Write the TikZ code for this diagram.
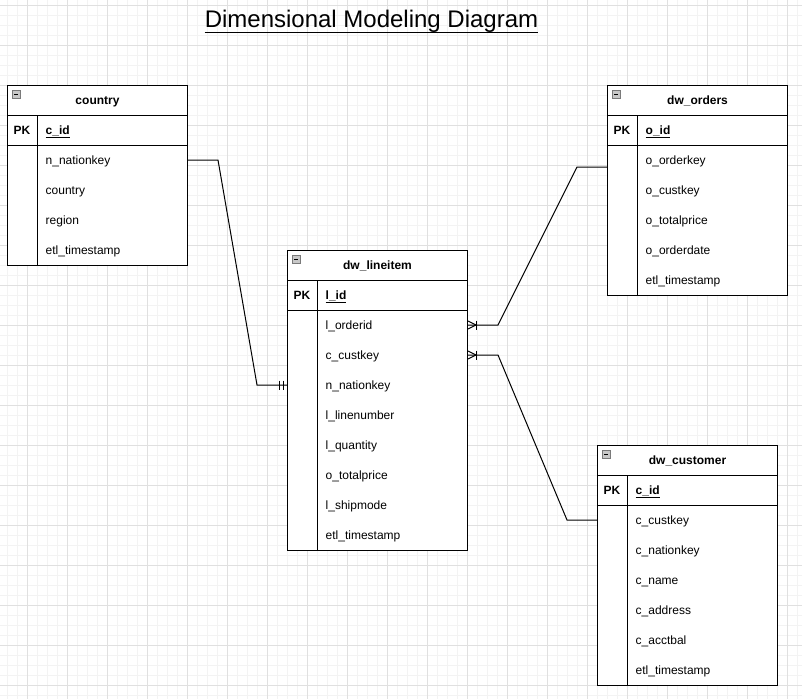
\documentclass[tikz,border=0pt]{standalone}
\usepackage{fontspec}
\setmainfont{Liberation Sans}
\usetikzlibrary{calc}
\definecolor{gridminor}{HTML}{F3F3F3}
\definecolor{gridmajor}{HTML}{E0E0E0}
\definecolor{iconfill}{HTML}{C8C8C8}
\definecolor{iconline}{HTML}{7A7A7A}
\tikzset{
  tbl/.style={draw=black, line width=1pt, fill=white, minimum width=180pt, inner sep=0pt, anchor=north west},
  sepline/.style={draw=black, line width=1pt},
  hdr/.style={font=\fontsize{12}{14}\selectfont\bfseries, inner sep=0pt, anchor=base},
  pkcell/.style={font=\fontsize{12}{14}\selectfont\bfseries, inner sep=0pt, anchor=base},
  pkname/.style={font=\fontsize{12}{14}\selectfont\bfseries, inner sep=0pt, anchor=base west},
  field/.style={font=\fontsize{12}{14}\selectfont, inner sep=0pt, anchor=base west},
  conn/.style={draw=black, line width=1pt},
  tickmark/.style={draw=black, line width=1pt},
  icon/.style={draw=iconline, fill=iconfill, line width=0.8pt},
  titletext/.style={font=\fontsize{24}{28}\selectfont, inner sep=0pt, anchor=base},
}
\newcommand{\ertable}[7]{%
  \pgfmathsetmacro\tabh{60+30*#6}
  \node[tbl, minimum height=\tabh pt] (#1) at (#2,#3) {};
  \draw[sepline] ([yshift=-30pt]#1.north west) -- ([yshift=-30pt]#1.north east);
  \draw[sepline] ([yshift=-60pt]#1.north west) -- ([yshift=-60pt]#1.north east);
  \draw[sepline] ([xshift=30pt,yshift=-30pt]#1.north west) -- ([xshift=30pt]#1.south west);
  \node[hdr] (#1-title) at ([yshift=-19.5pt]#1.north) {#4};
  \node[pkcell] (#1-pk) at ([xshift=15pt,yshift=-49.5pt]#1.north west) {PK};
  \node[pkname] (#1-id) at ([xshift=38.5pt,yshift=-49.5pt]#1.north west) {\underline{#5}};
  \foreach \r [count=\i] in {#7} {
    \node[field] (#1-r\i) at ([xshift=38.5pt,yshift={-49.5pt-30pt*\i}]#1.north west) {\r};
  }
  \draw[icon] ([xshift=5pt,yshift=-5pt]#1.north west) rectangle ([xshift=13pt,yshift=-13pt]#1.north west);
  \draw[black, line width=0.8pt] ([xshift=7pt,yshift=-9pt]#1.north west) -- ([xshift=11pt,yshift=-9pt]#1.north west);
}
\begin{document}
\begin{tikzpicture}[x=1pt, y=-1pt]
\useasboundingbox (0,0) rectangle (802,699);
\fill[white] (0,0) rectangle (802,699);
% grid
\foreach \gx in {7,17,...,797} \draw[gridminor, line width=0.8pt] (\gx,0) -- (\gx,699);
\foreach \gy in {5,15,...,695} \draw[gridminor, line width=0.8pt] (0,\gy) -- (802,\gy);
\foreach \gx in {27,67,...,787} \draw[gridmajor, line width=0.8pt] (\gx,0) -- (\gx,699);
\foreach \gy in {5,45,...,685} \draw[gridmajor, line width=0.8pt] (0,\gy) -- (802,\gy);

% title
\node[titletext] (title) at (371.5,27.3) {Dimensional Modeling Diagram};
\draw[black, line width=1.2pt] (title.west |- 0,32.5) -- (title.east |- 0,32.5);

% tables
\ertable{country}{7}{85}{country}{c\_id}{4}{n\_nationkey,country,region,etl\_timestamp}
\ertable{dworders}{607}{85}{dw\_orders}{o\_id}{5}{o\_orderkey,o\_custkey,o\_totalprice,o\_orderdate,etl\_timestamp}
\ertable{dwlineitem}{287}{250}{dw\_lineitem}{l\_id}{8}{l\_orderid,c\_custkey,n\_nationkey,l\_linenumber,l\_quantity,o\_totalprice,l\_shipmode,etl\_timestamp}
\ertable{dwcustomer}{597}{445}{dw\_customer}{c\_id}{6}{c\_custkey,c\_nationkey,c\_name,c\_address,c\_acctbal,etl\_timestamp}

% connector 1: country -> dw_lineitem (mandatory one)
\coordinate (c1s) at ([yshift=4.5pt]country.east |- country-r1.base);
\coordinate (c1e) at ([yshift=4.5pt]dwlineitem.west |- dwlineitem-r3.base);
\draw[conn] (c1s) -- ++(30,0) -- ([xshift=-30pt]c1e) -- (c1e);
\draw[tickmark] ([xshift=-8pt,yshift=4.5pt]c1e) -- ([xshift=-8pt,yshift=-4.5pt]c1e);
\draw[tickmark] ([xshift=-4pt,yshift=4.5pt]c1e) -- ([xshift=-4pt,yshift=-4.5pt]c1e);

% connector 2: dw_orders -> dw_lineitem (one to many)
\coordinate (c2s) at ([yshift=-2.5pt]dworders.west |- dworders-r1.base);
\coordinate (c2e) at ([yshift=4.5pt]dwlineitem.east |- dwlineitem-r1.base);
\draw[conn] (c2s) -- ++(-30,0) -- ([xshift=30pt]c2e) -- (c2e);
\draw[tickmark] ([yshift=4pt]c2e) -- ([xshift=8pt]c2e) -- ([yshift=-4pt]c2e);
\draw[tickmark] ([xshift=8pt,yshift=4.5pt]c2e) -- ([xshift=8pt,yshift=-4.5pt]c2e);

% connector 3: dw_customer -> dw_lineitem (one to many)
\coordinate (c3s) at ([yshift=4.5pt]dwcustomer.west |- dwcustomer-r1.base);
\coordinate (c3e) at ([yshift=4.5pt]dwlineitem.east |- dwlineitem-r2.base);
\draw[conn] (c3s) -- ++(-30,0) -- ([xshift=30pt]c3e) -- (c3e);
\draw[tickmark] ([yshift=4pt]c3e) -- ([xshift=8pt]c3e) -- ([yshift=-4pt]c3e);
\draw[tickmark] ([xshift=8pt,yshift=4.5pt]c3e) -- ([xshift=8pt,yshift=-4.5pt]c3e);
\end{tikzpicture}
\end{document}
